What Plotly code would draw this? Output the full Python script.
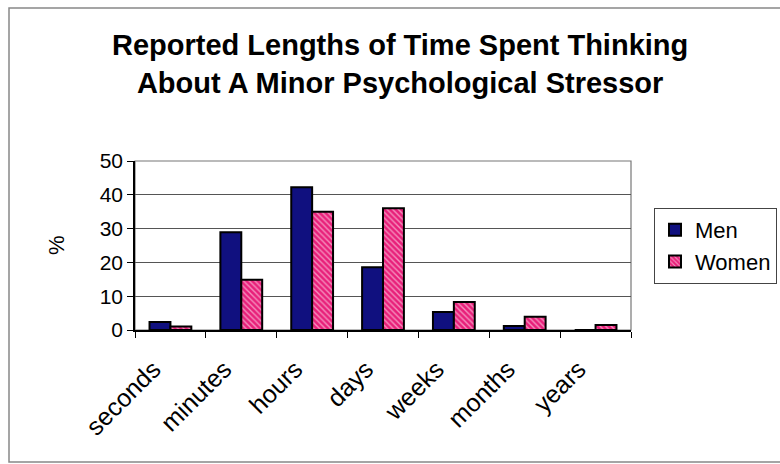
import plotly.graph_objects as go

categories = ["seconds", "minutes", "hours", "days", "weeks", "months", "years"]
men = [2.4, 28.9, 42.2, 18.6, 5.3, 1.2, 0]
women = [1.0, 14.9, 35.0, 36.0, 8.3, 3.9, 1.5]
y_ticks = [0, 10, 20, 30, 40, 50]

L, R, T, B = 135, 631, 161, 330
W, H = 780, 464
pw, ph = R - L, B - T

def px(x):
    return (x - L) / pw

def py(y):
    return (B - y) / ph

fig = go.Figure()
fig.add_trace(go.Bar(
    x=categories, y=men, name="Men",
    marker=dict(color="#10107f", line=dict(color="black", width=2)),
))
fig.add_trace(go.Bar(
    x=categories, y=women, name="Women",
    marker=dict(color="#e8207a", line=dict(color="black", width=2),
                pattern=dict(shape="\\", fgcolor="white", bgcolor="#e8207a", size=4, solidity=0.35)),
))

fig.update_layout(
    width=W, height=H,
    margin=dict(l=L, r=W - R, t=T, b=H - B, autoexpand=False),
    paper_bgcolor="white", plot_bgcolor="white",
    barmode="group", bargap=0.41, bargroupgap=0,
    font=dict(family="Liberation Sans, Arial", size=21, color="black"),
    showlegend=True,
    legend=dict(x=px(654), y=py(208), xanchor="left", yanchor="top",
                bordercolor="#444444", borderwidth=1, bgcolor="white",
                font=dict(size=22, family="Liberation Sans, Arial"),
                itemwidth=30, tracegroupgap=0),
    xaxis=dict(type="category", tickangle=-45, ticks="outside", tickson="boundaries",
               ticklen=6, tickcolor="black", showline=True, linecolor="black", linewidth=1.5,
               tickfont=dict(size=25), mirror=False, automargin=False,
               ticklabelstandoff=13, ticklabelshift=-17),
    yaxis=dict(range=[0, 50], tickvals=y_ticks, ticks="outside", ticklen=6, tickcolor="black",
               showline=True, linecolor="black", linewidth=1.5, showgrid=True,
               gridcolor="#555555", gridwidth=1, tickfont=dict(size=21), zeroline=False,
               automargin=False),
)

# plot area border (top and right)
fig.add_shape(type="rect", xref="paper", yref="paper", x0=0, y0=0, x1=1, y1=1,
              line=dict(color="#777777", width=1.2), layer="below")
# outer chart border
fig.add_shape(type="rect", xref="paper", yref="paper",
              x0=px(9), y0=py(462), x1=px(800), y1=py(8),
              line=dict(color="#888888", width=1.5))

fig.add_annotation(text="<b>Reported Lengths of Time Spent Thinking<br>About A Minor Psychological Stressor</b>",
                   xref="paper", yref="paper", x=px(400), y=py(64), xanchor="center", yanchor="middle",
                   showarrow=False, font=dict(family="Liberation Sans, Arial", size=29),
                   align="center")
fig.add_annotation(text="%", xref="paper", yref="paper", x=px(56), y=py(245),
                   xanchor="center", yanchor="middle", textangle=-90, showarrow=False,
                   font=dict(size=22))

fig.write_html("out.html")
